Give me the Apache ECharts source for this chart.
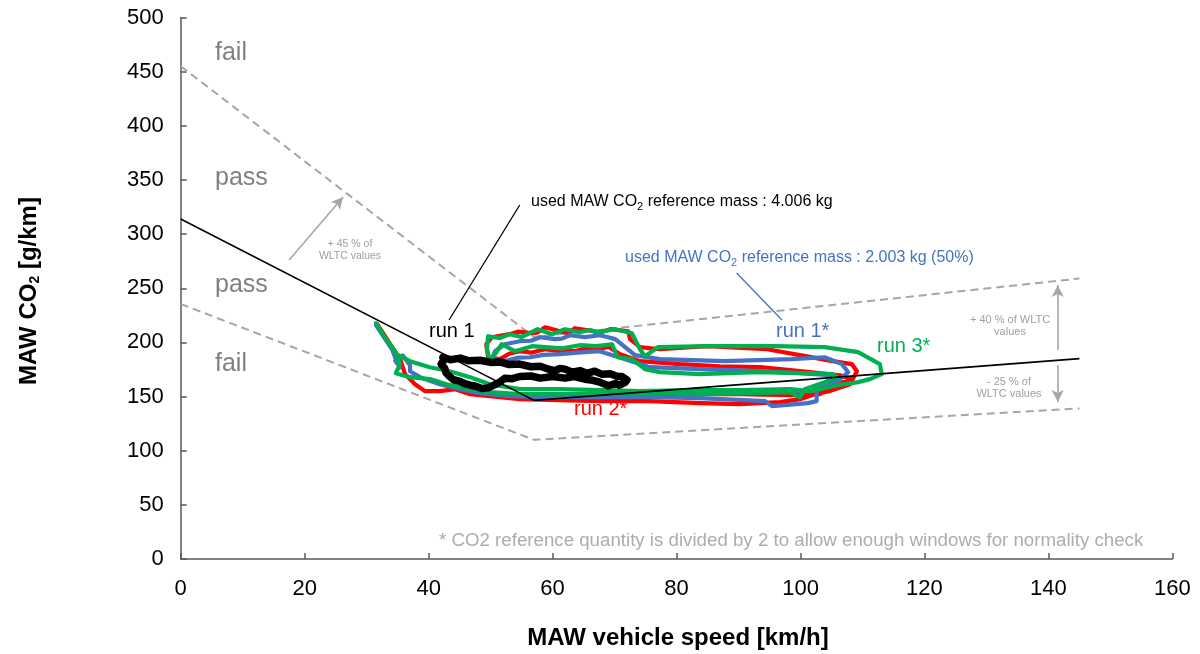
<!DOCTYPE html>
<html>
<head>
<meta charset="utf-8">
<script src="https://cdn.jsdelivr.net/npm/echarts@6.0.0/dist/echarts.min.js"></script>
<style>
  html, body { margin: 0; padding: 0; background: #ffffff; }
  #chart { width: 1200px; height: 654px; }
</style>
</head>
<body>
<div id="chart"></div>
<script>
// Axis ticks
const speedTicks = { min: 0, max: 160, step: 20 };
const co2Ticks = { min: 0, max: 500, step: 50 };

// WLTC characteristic curve [speed km/h, CO2 g/km] and its tolerance band
const wltcCurve = [[0, 314], [57, 146.5], [145, 185]];
const upperBound = [[0, 455], [57, 205], [145, 259]];
const lowerBound = [[0, 235.5], [57, 110], [145, 139]];

// Moving-average-window traces [speed km/h, CO2 g/km]
const run1 = [
  [42.3,186.3],[43.5,184.0],[45.1,185.5],[46.5,183.0],[48.3,183.5],[50.0,181.5],[51.5,182.0],
  [53.0,179.5],[54.7,180.0],[56.5,177.5],[58.0,178.0],[59.5,175.0],[60.4,174.0],[61.2,176.0],
  [62.0,175.3],[63.2,172.5],[64.4,174.0],[65.5,171.5],[66.8,173.4],[68.0,170.5],[69.3,171.0],
  [70.5,168.5],[71.2,168.5],[72.0,165.5],[71.7,163.0],[70.8,160.5],[70.1,162.0],[69.0,160.0],
  [67.6,163.3],[66.5,165.0],[65.2,166.0],[63.5,168.5],[62.0,167.0],[60.0,168.5],[58.0,167.0],
  [56.5,169.0],[54.7,168.5],[53.5,166.5],[52.3,167.0],[51.5,163.5],[50.7,161.0],[49.6,158.0],
  [48.6,157.5],[47.6,159.5],[46.7,160.5],[45.8,162.0],[45.1,164.0],[44.0,165.5],[43.4,168.5],
  [42.8,172.0],[42.6,176.0],[42.0,180.0],[42.5,184.0]
];
const run1Half = [
  [31.5,215.9],[33.0,203.0],[34.1,193.7],[34.7,184.5],[35.4,177.1],[34.6,183.0],[35.8,188.0],
  [37.0,179.0],[37.0,173.4],[38.6,167.9],[41.8,161.4],[45.1,156.8],[48.3,153.1],[53.1,150.4],[59.6,149.4],
  [67.6,149.4],[75.7,149.4],[83.8,148.5],[94.3,145.8],[95.4,141.1],[101.2,143.9],[102.6,145.8],
  [102.6,156.8],[104.4,160.5],[106.4,166.1],
  [107.7,172.5],[106.7,179.9],[103.9,186.3],[98.6,184.5],[87.8,182.7],[77.3,184.5],[73.3,188.2],[71.7,195.6],
  [70.1,203.0],[68.8,205.0],[67.6,206.6],[65.2,204.8],[62.8,206.6],[61.5,203.5],[60.4,203.0],
  [58.0,204.8],[56.5,201.5],[54.7,201.1],[52.3,198.3],[50.7,191.9],[50.2,184.5],
  [52.3,182.7],[54.5,186.0],[56.4,186.3],[58.5,188.5],[61.2,189.1],[64.0,190.5],[67.6,191.9],
  [71.7,184.5],[75.7,177.1],[83.8,175.3],[93.5,173.4],[99.9,171.6],[104.7,169.7],[105.6,162.4],
  [101.5,155.0],[95.1,154.1],[87.0,154.1],[80.6,153.1]
];
const run2Half = [
  [31.7,216.8],[33.8,198.3],[35.4,184.5],[36.2,170.7],[37.8,161.4],[39.4,155.0],[41.8,155.0],
  [44.3,156.8],[46.7,152.2],[49.9,150.4],[54.7,147.6],[61.2,146.7],
  [67.6,145.8],[75.7,145.8],[83.8,143.9],[90.2,143.0],[96.7,144.8],[99.9,147.6],[102.3,152.2],
  [104.7,155.0],[108.0,161.4],[109.1,173.4],[108.3,179.9],[105.2,182.7],[99.9,188.2],[94.6,193.7],
  [84.9,196.5],[77.3,193.7],[74.1,195.6],[72.5,203.0],[72.2,210.3],
  [69.3,212.2],[67.5,209.0],[66.0,211.0],[63.6,213.1],[62.5,208.5],[61.2,210.3],[58.8,214.0],
  [57.5,209.0],[56.4,208.5],[54.5,210.0],[53.1,207.6],[51.5,206.0],[50.2,204.8],[49.3,198.3],[49.6,186.3],
  [51.5,184.5],[53.0,189.5],[54.7,191.9],[56.5,190.5],[58.8,193.7],[61.0,192.0],[63.6,191.9],
  [65.5,195.0],[67.6,193.7],[69.0,196.0],[70.9,189.1],[74.1,182.7],
  [80.6,179.9],[87.0,178.0],[93.5,177.1],[99.9,173.4],[106.4,169.7],[108.0,166.1],[105.1,158.7],
  [103.1,152.2],[98.3,151.3],[90.2,152.2],[82.2,152.2],[75.7,151.3]
];
const run3Half = [
  [31.5,217.7],[33.1,203.0],[34.6,191.9],[35.4,179.9],[34.7,171.6],[37.0,167.9],[40.2,166.1],
  [43.4,160.5],[46.7,156.8],[49.9,154.1],[54.7,152.2],
  [61.2,152.2],[69.3,153.1],[77.3,153.1],[83.8,152.2],[91.8,153.1],[98.3,154.1],[99.9,149.4],[100.7,156.8],
  [103.9,163.3],[106.0,167.9],[105.1,170.7],[99.9,171.6],[93.1,172.5],[83.8,170.7],[77.3,172.5],
  [74.9,175.3],[72.8,184.5],[70.5,186.3],[69.6,198.3],[67.0,196.5],[64.4,197.4],[61.5,194.5],
  [58.8,195.6],[56.7,196.5],[53.9,191.9],[51.8,198.3],[50.7,189.1],[49.9,182.7],
  [49.4,193.7],[49.6,205.7],[51.5,204.0],[53.1,207.6],[55.0,205.0],[57.6,212.2],[59.9,207.6],
  [62.0,212.2],[64.4,209.4],[66.0,211.5],[67.3,209.5],[70.1,212.2],[72.8,208.5],[74.1,193.7],[74.9,187.3],
  [77.0,195.6],[85.1,196.5],[95.9,196.5],[103.9,195.6],[109.3,191.0],[112.8,179.9],[113.1,170.7],
  [111.2,166.1],[109.3,163.3],[106.0,160.5],[103.1,156.8],[101.5,155.0],
  [98.3,156.8],[90.2,155.9],[82.2,155.9],[74.1,155.0],[67.6,155.9],[61.2,156.8],[54.7,156.8],
  [49.9,161.4],[46.7,167.9],[43.4,173.4],[40.2,177.1],[37.0,182.7],[35.1,188.2]
];

// Tolerance arrows and label leader lines, in data units
const bandArrows = [
  [[17.5, 276.1], [26.2, 334.3]],
  [[141.5, 193.0], [141.5, 253.0]],
  [[141.5, 179.1], [141.5, 145.0]]
];
const leaderRun1 = [[54.7, 326.9], [43.3, 220.7]];
const leaderRun1Half = [[89.7, 264.1], [97.0, 220.7]];

const FONT = '"Liberation Sans", Arial, sans-serif';
const GREY_TXT = '#808080';
const BAND = '#A6A6A6';

function refLine(data, color, width, type) {
  return {
    type: 'line', data: data, symbol: 'none', silent: true,
    lineStyle: { color: color, width: width, type: type }, z: 2
  };
}
function trace(name, data, color, width, z) {
  return {
    name: name, type: 'line', data: data, symbol: 'none', silent: true, z: z,
    lineStyle: { color: color, width: width, join: 'round', cap: 'round' }
  };
}
function text(x, y, str, size, color, extra) {
  return Object.assign({
    type: 'text', x: x, y: y, silent: true, z: 20,
    style: Object.assign({
      text: str, fill: color, fontSize: size, fontFamily: FONT,
      align: 'left', verticalAlign: 'middle',
      textAlign: 'left', textVerticalAlign: 'middle'
    }, extra && extra.style)
  }, extra && extra.el);
}

const chart = echarts.init(document.getElementById('chart'), null, { renderer: 'canvas' });

const axisCommon = {
  type: 'value',
  axisLine: { show: true, lineStyle: { color: '#595959', width: 1.5 } },
  axisTick: { show: true, inside: true, length: 6, lineStyle: { color: '#595959', width: 1.5 } },
  splitLine: { show: false },
  axisLabel: { color: '#000', fontSize: 22, fontFamily: FONT }
};

const arrowLines = bandArrows.map(function (a) {
  return [
    { coord: a[0], symbol: 'none', lineStyle: { color: BAND, width: 1.6, type: 'solid' } },
    { coord: a[1], symbol: 'arrow' }
  ];
});

const sub = { fontSize: 11, fontFamily: FONT, padding: [10, 0, 0, 0] };

chart.setOption({
  animation: false,
  backgroundColor: '#ffffff',
  grid: { left: 180.7, right: 27.6, top: 17.5, bottom: 95 },
  xAxis: Object.assign({}, axisCommon, {
    min: speedTicks.min, max: speedTicks.max, interval: speedTicks.step,
    axisLabel: Object.assign({}, axisCommon.axisLabel, { margin: 19 })
  }),
  yAxis: Object.assign({}, axisCommon, {
    min: co2Ticks.min, max: co2Ticks.max, interval: co2Ticks.step,
    axisLabel: Object.assign({}, axisCommon.axisLabel, { margin: 17 })
  }),
  series: [
    Object.assign(refLine(upperBound, BAND, 2, [8, 5]), {
      markLine: {
        silent: true, animation: false, symbolSize: [9, 12],
        label: { show: false }, data: arrowLines
      }
    }),
    refLine(lowerBound, BAND, 2, [8, 5]),
    trace('run 2*', run2Half, '#FF0000', 4.2, 4),
    trace('run 1*', run1Half, '#4472C4', 4.2, 5),
    trace('run 3*', run3Half, '#00B050', 4.2, 6),
    Object.assign(refLine(wltcCurve, '#000000', 1.6, 'solid'), {
      z: 7,
      markLine: {
        silent: true, animation: false, symbol: ['none', 'none'],
        label: { show: false },
        data: [
          [{ coord: leaderRun1[0], lineStyle: { color: '#000', width: 1.3, type: 'solid' } }, { coord: leaderRun1[1] }],
          [{ coord: leaderRun1Half[0], lineStyle: { color: '#4472C4', width: 1.3, type: 'solid' } }, { coord: leaderRun1Half[1] }]
        ]
      }
    }),
    trace('run 1', run1, '#000000', 7.5, 8)
  ],
  graphic: [
    text(215, 53, 'fail', 25, GREY_TXT),
    text(215, 178, 'pass', 25, GREY_TXT),
    text(215, 285, 'pass', 25, GREY_TXT),
    text(215, 364, 'fail', 25, GREY_TXT),
    text(350, 250, '+ 45 % of\nWLTC values', 10.5, '#A0A0A0', { style: { align: 'center', textAlign: 'center', lineHeight: 12 } }),
    text(1010, 326, '+ 40 % of WLTC\nvalues', 11, '#A0A0A0', { style: { align: 'center', textAlign: 'center', lineHeight: 12.5 } }),
    text(1009, 388, '- 25 % of\nWLTC values', 11, '#A0A0A0', { style: { align: 'center', textAlign: 'center', lineHeight: 12.5 } }),
    text(531, 202, 'used MAW CO{s|2} reference mass : 4.006 kg', 16, '#000000', { style: { rich: { s: sub } } }),
    text(625, 258, 'used MAW CO{s|2} reference mass : 2.003 kg (50%)', 16, '#4472C4', { style: { rich: { s: sub } } }),
    text(429, 331, 'run 1', 20, '#000000'),
    text(776, 331, 'run 1*', 20, '#4472C4'),
    text(877, 346, 'run 3*', 20, '#00B050'),
    text(574, 409, 'run 2*', 20, '#FF0000'),
    text(439, 541, '* CO2 reference quantity is divided by 2 to allow enough windows for normality check', 18.7, '#ADADAD'),
    text(678, 638, 'MAW vehicle speed [km/h]', 24, '#000000', { style: { fontWeight: 'bold', align: 'center', textAlign: 'center' } }),
    text(29, 291, 'MAW CO{s|2} [g/km]', 24, '#000000', {
      el: { rotation: Math.PI / 2 },
      style: {
        fontWeight: 'bold', align: 'center', textAlign: 'center',
        rich: { s: { fontSize: 14, fontWeight: 'bold', fontFamily: FONT, padding: [12, 0, 0, 0] } }
      }
    })
  ]
});
</script>
</body>
</html>
